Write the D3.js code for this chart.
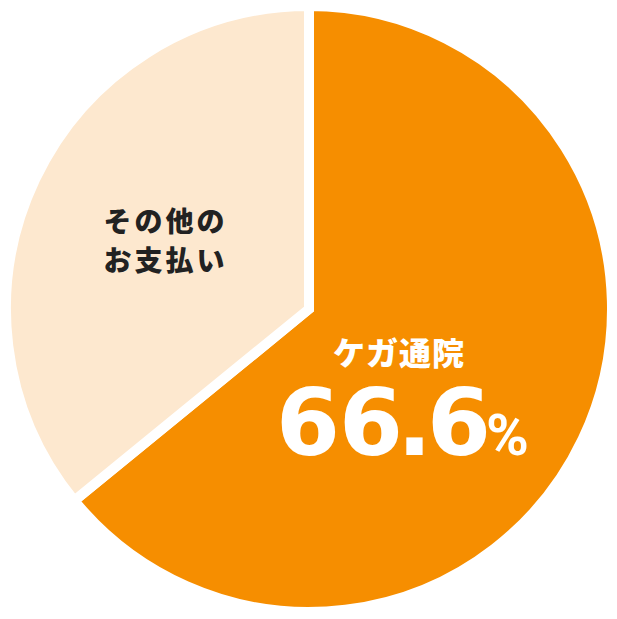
<!DOCTYPE html>
<html lang="ja">
<head>
<meta charset="UTF-8">
<title>ケガ通院の割合</title>
<script src="https://d3js.org/d3.v7.min.js"></script>
<style>
    body { margin: 0; background: #ffffff; }
    svg { display: block; }
    .jp { font-family: "Noto Sans CJK JP", sans-serif; font-weight: 900; }
    .num { font-family: "DejaVu Sans", sans-serif; font-weight: 700; }
    .pct { font-family: Roboto, sans-serif; font-weight: 700; }
</style>
</head>
<body>
<svg width="617" height="619"></svg>
<script>
    // slice shares as drawn in the picture (the label text reads 66.6%)
    const categories = ["ケガ通院", "その他のお支払い"];
    const shares = [64.1, 35.9];
    const colors = ["#f68e00", "#fde8cf"];
    const mainLabel = "ケガ通院";
    const mainValue = "66.6";
    const otherLabel = ["その他の", "お支払い"];

    const svg = d3.select("svg"),
        cx = 309, cy = 309,
        radius = 303;

    const g = svg.append("g").attr("transform", `translate(${cx},${cy})`);

    const pie = d3.pie().sort(null).value(d => d)(shares);
    const arc = d3.arc().innerRadius(0).outerRadius(radius);

    g.selectAll("path")
        .data(pie)
        .join("path")
        .attr("d", arc)
        .attr("fill", (d, i) => colors[i])
        .attr("stroke", "#ffffff")
        .attr("stroke-width", 10)
        .attr("stroke-linejoin", "miter");

    // main slice label
    g.append("text")
        .attr("class", "jp")
        .attr("x", 90)
        .attr("y", 56)
        .attr("text-anchor", "middle")
        .attr("fill", "#ffffff")
        .style("font-size", "32px")
        .style("letter-spacing", "1px")
        .text(mainLabel);

    // big number; the dot is pulled in a little on both sides
    const val = g.append("text")
        .attr("class", "num")
        .attr("x", -33)
        .attr("y", 146)
        .attr("fill", "#ffffff")
        .style("font-size", "92px")
        .style("letter-spacing", "-1px");
    const [intPart, decPart] = mainValue.split(".");
    val.append("tspan").text(intPart);
    val.append("tspan").attr("dx", -5).text(".");
    val.append("tspan").attr("dx", -4).text(decPart);

    g.append("text")
        .attr("class", "pct")
        .attr("x", 177)
        .attr("y", 146)
        .attr("fill", "#ffffff")
        .style("font-size", "58px")
        .text("%");

    // other slice label, placed along the slice's mid angle
    const mid = (pie[1].startAngle + pie[1].endAngle) / 2;
    const lr = 160;
    const ox = Math.sin(mid) * lr, oy = -Math.cos(mid) * lr;
    const other = g.append("text")
        .attr("class", "jp")
        .attr("text-anchor", "middle")
        .attr("fill", "#222222")
        .style("font-size", "28px")
        .style("letter-spacing", "3px");
    otherLabel.forEach((t, i) => {
        other.append("tspan")
            .attr("x", ox + 1)
            .attr("y", oy - 8 + i * 39)
            .text(t);
    });
</script>
</body>
</html>
